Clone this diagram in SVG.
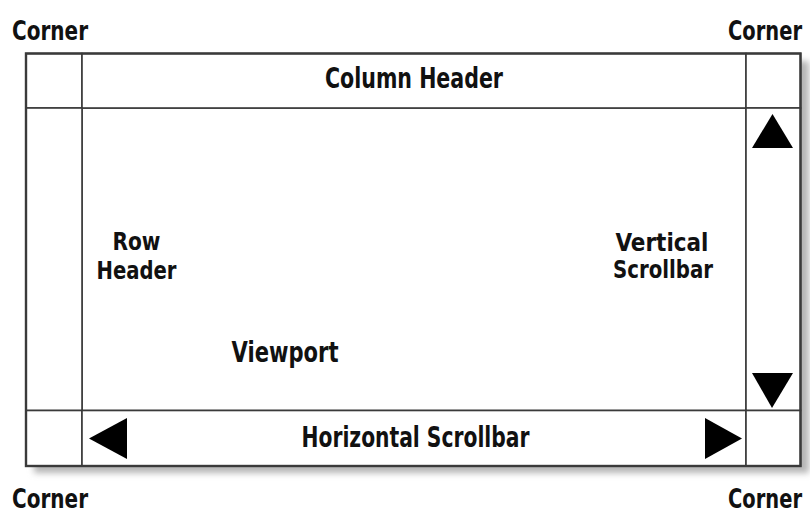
<svg xmlns="http://www.w3.org/2000/svg" width="810" height="515" viewBox="0 0 810 515">
  <style>
    .cell { fill: #ffffff; stroke: #3a3a3a; stroke-width: 1.6; }
    .frame { fill: none; stroke: #3a3a3a; stroke-width: 2.4; }
    .lbl { font-family: "DejaVu Sans Condensed", "Liberation Sans", sans-serif; font-weight: bold; font-size: 28px; fill: #111111; text-anchor: middle; }
    .lbl2 { font-family: "DejaVu Sans Condensed", "Liberation Sans", sans-serif; font-weight: bold; font-size: 25px; fill: #111111; text-anchor: middle; }
    .lbl-s { font-family: "DejaVu Sans Condensed", "Liberation Sans", sans-serif; font-weight: bold; font-size: 26px; fill: #111111; }
    .arrow { fill: #000000; }
  </style>
  <defs>
    <filter id="blur" x="-5%" y="-5%" width="110%" height="110%">
      <feGaussianBlur stdDeviation="3"/>
    </filter>
  </defs>
  <rect width="810" height="515" fill="#ffffff"/>
  <!-- drop shadow -->
  <rect x="34" y="61" width="775" height="412" fill="#b5b5b5" filter="url(#blur)"/>

  <g id="viewport">
    <rect class="cell" x="82" y="108" width="664" height="302.5"/>
    <text class="lbl" x="285" y="362" textLength="107" lengthAdjust="spacingAndGlyphs">Viewport</text>
  </g>
  <g id="corner-top-left">
    <rect class="cell" x="26" y="53.5" width="56" height="54.5"/>
    <text class="lbl-s" x="12" y="40" textLength="76" lengthAdjust="spacingAndGlyphs">Corner</text>
  </g>
  <g id="column-header">
    <rect class="cell" x="82" y="53.5" width="664" height="54.5"/>
    <text class="lbl" x="414" y="88" textLength="178" lengthAdjust="spacingAndGlyphs">Column Header</text>
  </g>
  <g id="corner-top-right">
    <rect class="cell" x="746" y="53.5" width="54.5" height="54.5"/>
    <text class="lbl-s" x="728" y="40" textLength="74" lengthAdjust="spacingAndGlyphs">Corner</text>
  </g>
  <g id="row-header">
    <rect class="cell" x="26" y="108" width="56" height="302.5"/>
    <text class="lbl2" x="136.5" y="250" textLength="48" lengthAdjust="spacingAndGlyphs">Row</text>
    <text class="lbl2" x="136.5" y="278.5" textLength="80" lengthAdjust="spacingAndGlyphs">Header</text>
  </g>
  <g id="vertical-scrollbar">
    <rect class="cell" x="746" y="108" width="54.5" height="302.5"/>
    <polygon class="arrow" points="752,148 793,148 772.5,114"/>
    <polygon class="arrow" points="752,373 793,373 772,408"/>
    <text class="lbl2" x="662" y="250.5" textLength="93" lengthAdjust="spacingAndGlyphs">Vertical</text>
    <text class="lbl2" x="663" y="278" textLength="100" lengthAdjust="spacingAndGlyphs">Scrollbar</text>
  </g>
  <g id="corner-bottom-left">
    <rect class="cell" x="26" y="410.5" width="56" height="55.5"/>
    <text class="lbl-s" x="12" y="508" textLength="76" lengthAdjust="spacingAndGlyphs">Corner</text>
  </g>
  <g id="horizontal-scrollbar">
    <rect class="cell" x="82" y="410.5" width="664" height="55.5"/>
    <polygon class="arrow" points="127,418 127,459 89,438.5"/>
    <polygon class="arrow" points="705,418 705,459 742,438.5"/>
    <text class="lbl" x="415.5" y="447" textLength="228" lengthAdjust="spacingAndGlyphs">Horizontal Scrollbar</text>
  </g>
  <g id="corner-bottom-right">
    <rect class="cell" x="746" y="410.5" width="54.5" height="55.5"/>
    <text class="lbl-s" x="728" y="508" textLength="74" lengthAdjust="spacingAndGlyphs">Corner</text>
  </g>
  <rect class="frame" x="26" y="53.5" width="774.5" height="412.5"/>
</svg>
